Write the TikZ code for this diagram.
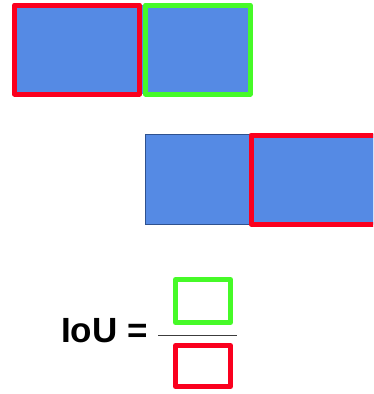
\documentclass[tikz,border=0pt]{standalone}
\usepackage{fontspec}
\setmainfont{Liberation Sans}
\definecolor{boxblue}{RGB}{85,138,228}
\definecolor{edgeblue}{RGB}{47,82,143}
\definecolor{iouRed}{RGB}{250,0,30}
\definecolor{iouGreen}{RGB}{70,250,40}
\definecolor{barGray}{RGB}{60,60,60}
\tikzset{
  px/.style={x=1pt,y=-1pt},
  fillbox/.style={fill=boxblue,draw=none,inner sep=0pt,outer sep=0pt},
  redframe/.style={draw=iouRed,line width=5pt,line join=round,inner sep=0pt,outer sep=0pt},
  greenframe/.style={draw=iouGreen,line width=5pt,line join=round,inner sep=0pt,outer sep=0pt},
  plainbox/.style={fill=boxblue,draw=edgeblue,line width=1pt,inner sep=0pt,outer sep=0pt},
}
\begin{document}
\begin{tikzpicture}[px]
\useasboundingbox (0,0) rectangle (373,394);
\fill[white] (0,0) rectangle (373,394);
\clip (0,0) rectangle (373,394);
% top row
\fill[boxblue] (14.5,5) rectangle (250,94);
\node[redframe,minimum width=125pt,minimum height=89pt] (ra) at (77,49.5) {};
\node[greenframe,minimum width=104.5pt,minimum height=89pt] (ga) at (197.75,49.5) {};
% second row
\node[plainbox,minimum width=255pt,minimum height=90pt] (bb) at (273,179) {};
\fill[boxblue] (251,135) rectangle (380,224);
\node[redframe,minimum width=140pt,minimum height=89pt] (rb) at (321,179.5) {};
% formula
\node[font=\fontsize{35}{40}\selectfont\bfseries,inner sep=0pt,anchor=east] (iou) at (148,331) {IoU =};
\coordinate (barL) at (158,335.5);
\coordinate (barR) at (237,335.5);
\draw[barGray,line width=1.5pt] (barL) -- (barR);
\node[greenframe,minimum width=55pt,minimum height=43pt] (gs) at (203,301) {};
\node[redframe,minimum width=55pt,minimum height=41pt] (rs) at (203,366) {};
\end{tikzpicture}
\end{document}
